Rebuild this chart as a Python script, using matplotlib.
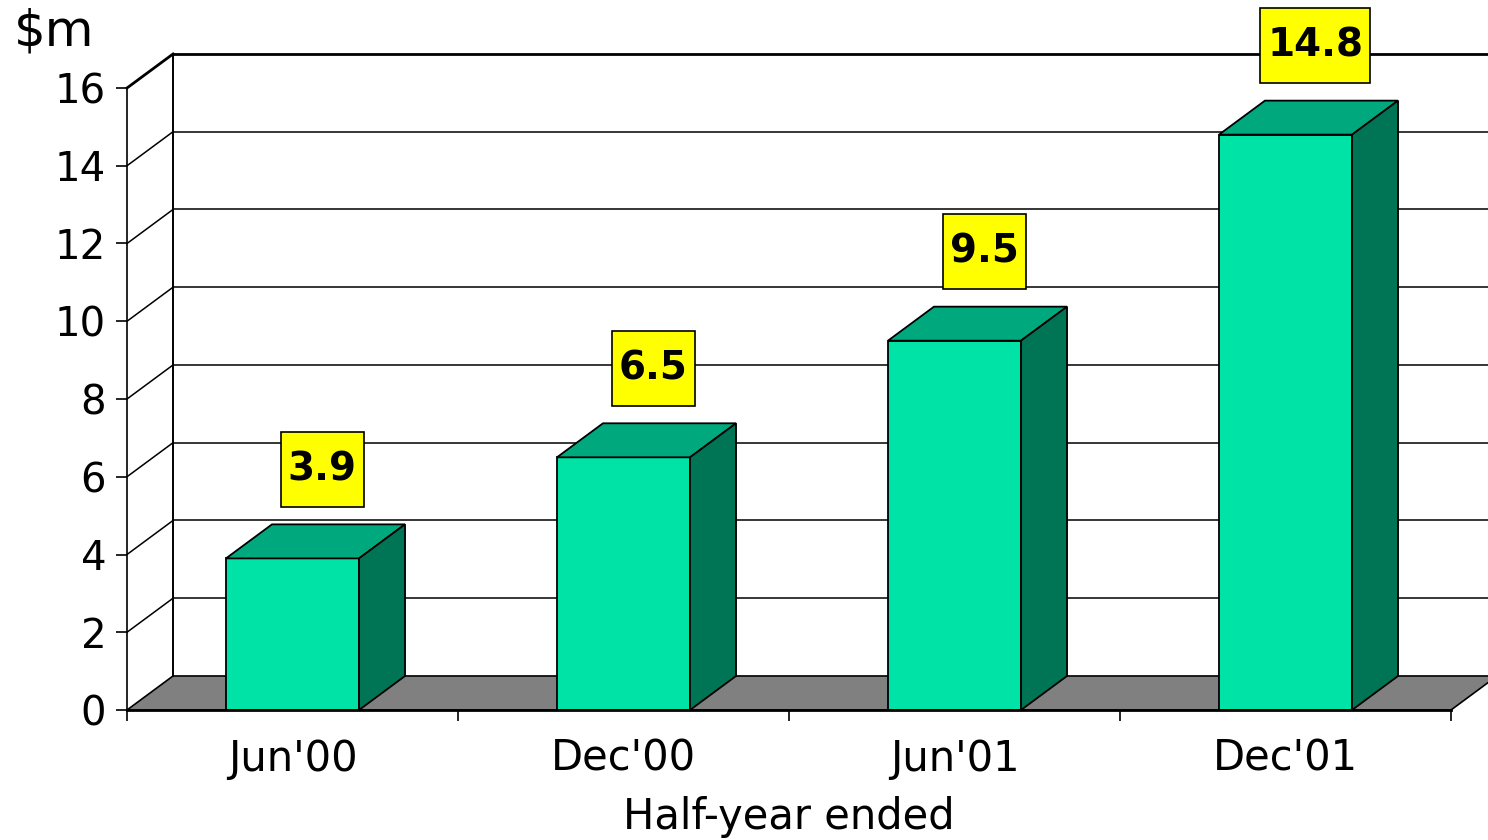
import matplotlib
matplotlib.use('Agg')
import matplotlib.pyplot as plt
from matplotlib.patches import Polygon, Rectangle

# half-year results, $m
categories = ["Jun'00", "Dec'00", "Jun'01", "Dec'01"]
values = [3.9, 6.5, 9.5, 14.8]
yticks = [0, 2, 4, 6, 8, 10, 12, 14, 16]

FRONT = '#00E3A6'
TOP = '#00A97D'
SIDE = '#007556'
FLOOR = '#808080'

# fake 3d: depth shift in data units (x = category units, y = $m)
DX = 0.139
DY = 0.875
BAR_W = 0.402
YMAX = 16
PX_X = 1 / 331      # one pixel in category units
PX_Y = 1 / 38.875   # one pixel in $m

fig = plt.figure(figsize=(14.88, 8.4), dpi=100)
ax = fig.add_axes([0, 0, 1, 1])
ax.set_xlim(-127 * PX_X, 1361 * PX_X)
ax.set_ylim(-130 * PX_Y, 710 * PX_Y)

# floor
ncat = len(categories)
ax.add_patch(Polygon([(0, 0), (ncat, 0), (ncat + DX, DY), (DX, DY)], closed=True,
                     facecolor=FLOOR, edgecolor='black', lw=1.2, zorder=1))

# back wall and left wall grid
for v in yticks[1:]:
    lw = 2.0 if v == YMAX else 1.1
    ax.plot([DX, ncat + DX + 0.2], [v + DY, v + DY], color='black', lw=lw, zorder=1)
    ax.plot([0, DX], [v, v + DY], color='black', lw=lw, zorder=1)
ax.plot([DX, DX], [DY, YMAX + DY], color='black', lw=1.4, zorder=1)

# bars with value boxes
fig.canvas.draw()
renderer = fig.canvas.get_renderer()
for i, v in enumerate(values):
    x0 = i + 0.5 - BAR_W / 2
    x1 = i + 0.5 + BAR_W / 2
    ax.add_patch(Polygon([(x0, 0), (x1, 0), (x1, v), (x0, v)], closed=True,
                         facecolor=FRONT, edgecolor='black', lw=1.3, zorder=3))
    ax.add_patch(Polygon([(x0, v), (x1, v), (x1 + DX, v + DY), (x0 + DX, v + DY)], closed=True,
                         facecolor=TOP, edgecolor='black', lw=1.3, zorder=3))
    ax.add_patch(Polygon([(x1, 0), (x1 + DX, DY), (x1 + DX, v + DY), (x1, v)], closed=True,
                         facecolor=SIDE, edgecolor='black', lw=1.3, zorder=3))
    lx = i + 0.5 + DX / 2 + 0.02
    ly = v + DY + 1.42
    t = ax.text(lx, ly, f'{v:.1f}', ha='center', va='center',
                fontsize=28, fontweight='bold', zorder=6)
    w = t.get_window_extent(renderer).width + 14
    h = 75
    ax.add_patch(Rectangle((lx - w / 2 * PX_X, ly - h / 2 * PX_Y), w * PX_X, h * PX_Y,
                           facecolor='#FFFF00', edgecolor='black', lw=1.2, zorder=5))

# axes lines and ticks
for s in ['top', 'right']:
    ax.spines[s].set_visible(False)
ax.spines['left'].set_position(('data', 0))
ax.spines['left'].set_bounds(0, YMAX)
ax.spines['left'].set_linewidth(1.2)
ax.spines['bottom'].set_position(('data', 0))
ax.spines['bottom'].set_bounds(0, ncat)
ax.spines['bottom'].set_linewidth(2.0)
ax.spines['bottom'].set_zorder(4)

ax.set_yticks(yticks)
ax.tick_params(axis='y', direction='out', length=8, width=1.2, pad=7, labelsize=29)
ax.set_xticks(range(ncat + 1))
ax.set_xticklabels([])
ax.set_xticks([i + 0.5 for i in range(ncat)], minor=True)
ax.set_xticklabels(categories, minor=True)
ax.tick_params(axis='x', which='major', direction='out', length=8, width=1.2)
ax.tick_params(axis='x', which='minor', length=0, pad=20, labelsize=30)

ax.text(0.009, 0.962, '$m', transform=ax.transAxes, fontsize=36, ha='left', va='center')
ax.text(2.0, -107 * PX_Y, 'Half-year ended', fontsize=30, ha='center', va='center')

fig.savefig('out.png', dpi=100)
